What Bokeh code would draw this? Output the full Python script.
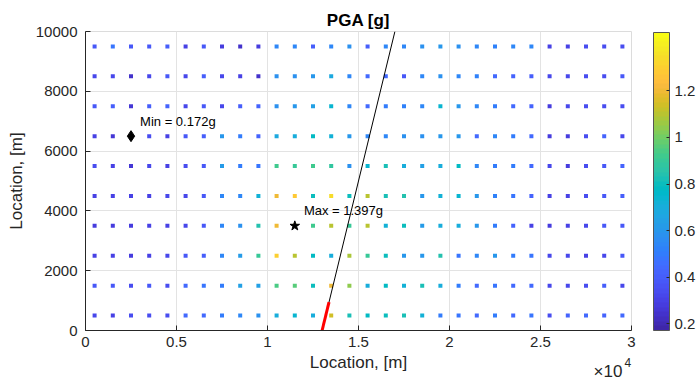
from bokeh.plotting import figure
from bokeh.embed import file_html
from bokeh.resources import INLINE
from bokeh.models import (ColumnDataSource, LinearColorMapper, ColorBar, FixedTicker,
                          CustomJSTickFormatter)
from bokeh.core.properties import value

# ---------------- data ----------------
x_positions = [500 + 1000 * i for i in range(30)]
y_positions = [500, 1500, 2500, 3500, 4500, 5500, 6500, 7500, 8500, 9500]

pga_y500 = [0.32, 0.30, 0.35, 0.35, 0.35, 0.45, 0.45, 0.50, 0.55, 0.58, 0.70, 0.75, 0.70, 1.15,
            0.82, 0.78, 0.80, 0.82, 0.72, 0.50, 0.48, 0.45, 0.50, 0.45, 0.48, 0.35, 0.42, 0.45, 0.42, 0.45]
pga_y1500 = [0.38, 0.38, 0.35, 0.38, 0.35, 0.45, 0.48, 0.50, 0.65, 0.65, 0.95, 0.97, 0.80, 1.20,
             1.05, 0.70, 0.78, 0.72, 0.82, 0.70, 0.50, 0.45, 0.48, 0.45, 0.45, 0.32, 0.32, 0.35, 0.40, 0.32]
pga_y2500 = [0.30, 0.30, 0.28, 0.30, 0.32, 0.38, 0.40, 0.55, 0.62, 0.90, 1.30, 1.10, 0.78, 0.70,
             1.08, 0.90, 0.80, 0.60, 0.60, 0.85, 0.48, 0.55, 0.60, 0.50, 0.48, 0.32, 0.32, 0.30, 0.32, 0.38]
pga_y3500 = [0.28, 0.28, 0.28, 0.30, 0.30, 0.33, 0.38, 0.55, 0.58, 0.85, 1.20, 1.397, 0.92, 1.10,
             0.90, 1.10, 0.72, 0.80, 0.62, 0.70, 0.70, 0.60, 0.50, 0.42, 0.30, 0.28, 0.30, 0.33, 0.38, 0.38]
pga_y4500 = [0.30, 0.30, 0.30, 0.30, 0.32, 0.32, 0.38, 0.55, 0.55, 0.72, 1.20, 1.28, 0.80, 1.35,
             0.80, 1.10, 0.82, 0.85, 0.60, 0.72, 0.75, 0.60, 0.52, 0.48, 0.42, 0.30, 0.30, 0.35, 0.38, 0.40]
pga_y5500 = [0.35, 0.30, 0.27, 0.32, 0.30, 0.35, 0.38, 0.62, 0.50, 0.48, 0.92, 0.90, 0.92, 0.88,
             0.58, 0.75, 0.82, 0.70, 0.65, 0.70, 0.78, 0.55, 0.50, 0.50, 0.45, 0.32, 0.28, 0.35, 0.38, 0.42]
pga_y6500 = [0.30, 0.27, 0.172, 0.35, 0.30, 0.38, 0.40, 0.60, 0.50, 0.42, 0.68, 0.70, 0.78, 0.72,
             0.60, 0.55, 0.55, 0.58, 0.58, 0.60, 0.60, 0.45, 0.55, 0.50, 0.45, 0.28, 0.28, 0.35, 0.42, 0.32]
pga_y7500 = [0.38, 0.40, 0.27, 0.40, 0.42, 0.33, 0.38, 0.33, 0.40, 0.42, 0.58, 0.60, 0.65, 0.75,
             0.55, 0.45, 0.50, 0.52, 0.55, 0.75, 0.60, 0.55, 0.50, 0.45, 0.42, 0.28, 0.32, 0.35, 0.35, 0.35]
pga_y8500 = [0.32, 0.32, 0.25, 0.32, 0.38, 0.33, 0.40, 0.33, 0.30, 0.25, 0.58, 0.58, 0.60, 0.68,
             0.55, 0.45, 0.45, 0.38, 0.55, 0.58, 0.55, 0.52, 0.45, 0.42, 0.40, 0.32, 0.32, 0.35, 0.35, 0.38]
pga_y9500 = [0.38, 0.48, 0.38, 0.38, 0.40, 0.30, 0.38, 0.28, 0.25, 0.28, 0.55, 0.55, 0.40, 0.55,
             0.58, 0.40, 0.55, 0.55, 0.58, 0.60, 0.58, 0.55, 0.52, 0.55, 0.55, 0.30, 0.30, 0.35, 0.35, 0.35]
pga_rows = [pga_y500, pga_y1500, pga_y2500, pga_y3500, pga_y4500,
            pga_y5500, pga_y6500, pga_y7500, pga_y8500, pga_y9500]

fault_x = [13000, 17000]
fault_y = [0, 10000]
rupture_x = [13000, 13380]
rupture_y = [0, 950]

min_loc = (2500, 6500)
min_text = "Min = 0.172g"
max_loc = (11500, 3500)
max_text = "Max = 1.397g"

color_low, color_high = 0.172, 1.45
cbar_ticks = [0.2, 0.4, 0.6, 0.8, 1.0, 1.2]
x_ticks = [0, 5000, 10000, 15000, 20000, 25000, 30000]
y_ticks = [0, 2000, 4000, 6000, 8000, 10000]
x_multiplier_base = "\u00d710"
x_multiplier_exp = "4"

# parula colormap (64)
parula_rgb = [
    (0.2422, 0.1504, 0.6603), (0.2504, 0.1650, 0.7076), (0.2578, 0.1818, 0.7511), (0.2647, 0.1978, 0.7952),
    (0.2706, 0.2147, 0.8364), (0.2751, 0.2342, 0.8710), (0.2783, 0.2559, 0.8991), (0.2803, 0.2782, 0.9221),
    (0.2813, 0.3006, 0.9414), (0.2810, 0.3228, 0.9579), (0.2795, 0.3447, 0.9717), (0.2760, 0.3667, 0.9829),
    (0.2699, 0.3892, 0.9906), (0.2602, 0.4123, 0.9952), (0.2440, 0.4358, 0.9988), (0.2206, 0.4603, 0.9973),
    (0.1963, 0.4847, 0.9892), (0.1834, 0.5074, 0.9798), (0.1786, 0.5289, 0.9682), (0.1764, 0.5499, 0.9520),
    (0.1687, 0.5703, 0.9359), (0.1540, 0.5902, 0.9218), (0.1460, 0.6091, 0.9079), (0.1380, 0.6276, 0.8973),
    (0.1248, 0.6459, 0.8883), (0.1113, 0.6635, 0.8763), (0.0952, 0.6798, 0.8598), (0.0689, 0.6948, 0.8394),
    (0.0297, 0.7082, 0.8163), (0.0036, 0.7203, 0.7917), (0.0067, 0.7312, 0.7660), (0.0433, 0.7411, 0.7394),
    (0.0964, 0.7500, 0.7120), (0.1408, 0.7584, 0.6842), (0.1717, 0.7670, 0.6554), (0.1938, 0.7758, 0.6251),
    (0.2161, 0.7843, 0.5923), (0.2470, 0.7918, 0.5567), (0.2906, 0.7973, 0.5188), (0.3406, 0.8008, 0.4789),
    (0.3909, 0.8029, 0.4354), (0.4456, 0.8024, 0.3909), (0.5044, 0.7993, 0.3480), (0.5616, 0.7942, 0.3045),
    (0.6174, 0.7876, 0.2612), (0.6720, 0.7793, 0.2227), (0.7242, 0.7698, 0.1910), (0.7738, 0.7598, 0.1646),
    (0.8203, 0.7498, 0.1535), (0.8634, 0.7406, 0.1596), (0.9035, 0.7330, 0.1774), (0.9393, 0.7288, 0.2100),
    (0.9728, 0.7298, 0.2394), (0.9956, 0.7434, 0.2371), (0.9970, 0.7659, 0.2199), (0.9952, 0.7893, 0.2028),
    (0.9892, 0.8136, 0.1885), (0.9786, 0.8386, 0.1766), (0.9676, 0.8639, 0.1643), (0.9610, 0.8890, 0.1537),
    (0.9597, 0.9135, 0.1423), (0.9628, 0.9373, 0.1265), (0.9691, 0.9606, 0.1064), (0.9769, 0.9839, 0.0805)]
parula = ["#%02x%02x%02x" % (int(r * 255 + 0.5), int(g * 255 + 0.5), int(b * 255 + 0.5)) for r, g, b in parula_rgb]

# ---------------- build ----------------
xs, ys, vs = [], [], []
for yv, row in zip(y_positions, pga_rows):
    for xv, v in zip(x_positions, row):
        xs.append(xv); ys.append(yv); vs.append(v)
src = ColumnDataSource(dict(x=xs, y=ys, v=vs))

FONT = "Liberation Sans"
DARK = "#262626"

p = figure(width=697, height=382, output_backend="svg", toolbar_location=None,
           x_range=(0, 30000), y_range=(0, 10000),
           min_border_left=85, min_border_right=66, min_border_top=31, min_border_bottom=52,
           background_fill_color="white", border_fill_color="white")

mapper = LinearColorMapper(palette=parula, low=color_low, high=color_high)

p.scatter("x", "y", source=src, marker="square", size=4,
          fill_color={"field": "v", "transform": mapper}, line_color=None)

p.line(fault_x, fault_y, line_color="black", line_width=1)
p.line(rupture_x, rupture_y, line_color="red", line_width=3)

p.scatter([min_loc[0]], [min_loc[1]], marker="diamond", size=11, fill_color="black", line_color="black")
p.scatter([max_loc[0]], [max_loc[1]], marker="star", size=10, fill_color="black", line_color="black")

p.text([min_loc[0] + 500], [min_loc[1] + 500], text=[min_text], text_font=value(FONT),
       text_font_size="13px", text_baseline="middle", text_align="left", text_color="black")
p.text([max_loc[0] + 500], [max_loc[1] + 500], text=[max_text], text_font=value(FONT),
       text_font_size="13px", text_baseline="middle", text_align="left", text_color="black")

# title
p.title.text = "PGA [g]"
p.title.align = "center"
p.title.text_font = FONT
p.title.text_font_size = "17px"
p.title.text_font_style = "bold"
p.title.text_color = "black"
p.title.offset = 0
p.title.standoff = 4

# axes
p.xaxis.ticker = FixedTicker(ticks=x_ticks)
p.yaxis.ticker = FixedTicker(ticks=y_ticks)
p.xaxis.formatter = CustomJSTickFormatter(code="return Number((tick/1e4).toFixed(2)).toString()")
for ax in (p.xaxis[0], p.yaxis[0]):
    ax.axis_line_color = DARK
    ax.major_tick_line_color = DARK
    ax.major_tick_in = 5
    ax.major_tick_out = 0
    ax.minor_tick_line_color = None
    ax.major_label_text_font = FONT
    ax.major_label_text_font_size = "15px"
    ax.major_label_text_color = DARK
    ax.axis_label_text_font = FONT
    ax.axis_label_text_font_size = "17px"
    ax.axis_label_text_font_style = "normal"
    ax.axis_label_text_color = DARK
p.xaxis.axis_label = "Location, [m]"
p.yaxis.axis_label = "Location, [m]"
p.xaxis.axis_label_standoff = 3
p.yaxis.axis_label_standoff = 7
p.xaxis.major_label_standoff = 6
p.yaxis.major_label_standoff = 8

p.xgrid.ticker = FixedTicker(ticks=x_ticks)
p.ygrid.ticker = FixedTicker(ticks=y_ticks)
p.grid.grid_line_color = "#e3e3e3"
p.grid.grid_line_width = 1
p.outline_line_color = "#dcdcdc"


# x10^4 multiplier: drawn as titles of bar-less colour bars placed below the frame
def text_only_bar(text, size, loc):
    return ColorBar(color_mapper=mapper, ticker=FixedTicker(ticks=[]), location=loc,
                    orientation="horizontal",
                    width=1, height=1, padding=0, margin=0, scale_alpha=0,
                    bar_line_color=None, major_tick_line_color=None, minor_tick_line_color=None,
                    border_line_color=None, background_fill_alpha=0,
                    title=text, title_standoff=0, title_text_font=FONT,
                    title_text_font_size=size, title_text_font_style="normal",
                    title_text_color=DARK)


p.add_layout(text_only_bar(x_multiplier_base, "17px", (508, -51)), "center")
p.add_layout(text_only_bar(x_multiplier_exp, "12px", (539, -37)), "center")

# colorbar
cbar = ColorBar(color_mapper=mapper, ticker=FixedTicker(ticks=cbar_ticks),
                formatter=CustomJSTickFormatter(code="return Number(tick.toFixed(1)).toString()"),
                location=(568, 0), width=16, height=298, padding=0, margin=0,
                major_label_text_font=FONT, major_label_text_font_size="15px",
                major_label_text_color=DARK, label_standoff=5,
                major_tick_line_color=DARK, major_tick_in=3, major_tick_out=0,
                bar_line_color="#555555", bar_line_width=1,
                border_line_color=None, background_fill_alpha=0)
p.add_layout(cbar, "center")

open("out.html", "w").write(file_html(p, INLINE))
